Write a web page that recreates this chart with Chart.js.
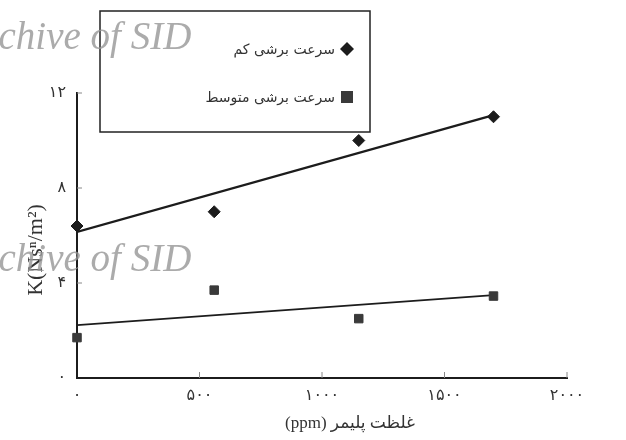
<!DOCTYPE html>
<html>
<head>
<meta charset="utf-8">
<script src="https://cdn.jsdelivr.net/npm/chart.js@4"></script>
<style>
  html, body { margin: 0; background: #fff; }
  #wrap { width: 626px; height: 440px; }
</style>
</head>
<body>
<div id="wrap"><canvas id="chart"></canvas></div>
<script>
const LOW_LABEL = "سرعت برشی کم";
const MID_LABEL = "سرعت برشی متوسط";
const X_TITLE   = "غلظت پلیمر (ppm)";
const Y_TITLE   = "K(Nsⁿ/m²)";

const conc   = [0, 560, 1150, 1700];
const kLow   = [6.4, 7.0, 10.0, 11.0];
const kMid   = [1.7, 3.7, 2.5, 3.45];
const fitX   = [0, 1700];
const fitLow = [6.15, 11.07];
const fitMid = [2.23, 3.49];

const FA = "۰۱۲۳۴۵۶۷۸۹";
const fa = v => String(v).replace(/\d/g, d => FA[d]);
const pts = (xs, ys) => xs.map((x, i) => ({ x, y: ys[i] }));

const INK = "#1c1c1c";

// ── Extras: inner tick marks, legend box, titles, watermark ──────
const extras = {
  id: "extras",
  afterDraw(chart) {
    const { ctx, scales: { x, y } } = chart;
    ctx.save();

    // small tick marks pointing into the plot
    ctx.strokeStyle = "#888";
    ctx.lineWidth = 1;
    x.ticks.forEach(t => {
      if (!t.value) return;
      const px = x.getPixelForValue(t.value);
      ctx.beginPath(); ctx.moveTo(px, y.bottom); ctx.lineTo(px, y.bottom - 6); ctx.stroke();
    });
    y.ticks.forEach(t => {
      if (!t.value) return;
      const py = y.getPixelForValue(t.value);
      ctx.beginPath(); ctx.moveTo(x.left, py); ctx.lineTo(x.left + 5, py); ctx.stroke();
    });

    // legend box
    ctx.fillStyle = "#fff";
    ctx.fillRect(100, 11, 270, 121);
    ctx.strokeStyle = "#222";
    ctx.lineWidth = 1.5;
    ctx.strokeRect(100, 11, 270, 121);

    ctx.fillStyle = INK;
    ctx.beginPath();
    ctx.moveTo(347, 42); ctx.lineTo(354, 49); ctx.lineTo(347, 56); ctx.lineTo(340, 49);
    ctx.closePath(); ctx.fill();
    ctx.fillStyle = "#3a3a3a";
    ctx.fillRect(341, 91, 12, 12);

    ctx.fillStyle = "#333";
    ctx.font = "14px 'DejaVu Sans'";
    ctx.direction = "rtl";
    ctx.textAlign = "right";
    ctx.textBaseline = "middle";
    ctx.fillText(LOW_LABEL, 335, 50);
    ctx.fillText(MID_LABEL, 335, 98);

    // x title
    ctx.font = "17px 'Liberation Serif', 'DejaVu Sans'";
    ctx.textAlign = "center";
    ctx.fillText(X_TITLE, 350, 424);

    // y title
    ctx.direction = "ltr";
    ctx.translate(36, 250);
    ctx.rotate(-Math.PI / 2);
    ctx.font = "22px 'Liberation Serif'";
    ctx.fillText(Y_TITLE, 0, 0);
    ctx.setTransform(1, 0, 0, 1, 0, 0);

    // watermark
    ctx.font = "italic 39px 'Liberation Serif'";
    ctx.fillStyle = "rgba(150,150,150,0.8)";
    ctx.textAlign = "left";
    ctx.textBaseline = "alphabetic";
    const off = ctx.measureText("Ar").width;
    ctx.fillText("Archive of SID", -off, 49);
    ctx.fillText("Archive of SID", -off, 271);

    ctx.restore();
  }
};

new Chart(document.getElementById("chart"), {
  type: "scatter",
  data: {
    datasets: [
      { label: LOW_LABEL, data: pts(conc, kLow), pointStyle: "rectRot", pointRadius: 6,
        backgroundColor: INK, borderColor: INK, showLine: false, clip: false },
      { label: MID_LABEL, data: pts(conc, kMid), pointStyle: "rect", pointRadius: 6,
        backgroundColor: "#3a3a3a", borderColor: "#3a3a3a", showLine: false, clip: false },
      { label: "fit-low", data: pts(fitX, fitLow), showLine: true, pointRadius: 0,
        borderColor: INK, borderWidth: 2.2 },
      { label: "fit-mid", data: pts(fitX, fitMid), showLine: true, pointRadius: 0,
        borderColor: INK, borderWidth: 1.8 },
    ],
  },
  options: {
    responsive: true,
    maintainAspectRatio: false,
    animation: false,
    layout: { padding: { top: 93, right: 59, left: 0, bottom: 0 } },
    plugins: { legend: { display: false }, tooltip: { enabled: false } },
    scales: {
      x: {
        type: "linear", min: 0, max: 2000,
        afterFit: s => { s.height = 62; },
        grid: { display: false, drawTicks: false },
        border: { color: INK, width: 2 },
        ticks: { stepSize: 500, padding: 8, color: "#333", font: { family: "DejaVu Sans", size: 16 },
                 callback: v => fa(v) },
      },
      y: {
        min: 0, max: 12,
        afterFit: s => { s.width = 77; },
        grid: { display: false, drawTicks: false },
        border: { color: INK, width: 2 },
        ticks: { stepSize: 4, padding: 11, color: "#333", font: { family: "DejaVu Sans", size: 16 },
                 callback: v => fa(v) },
      },
    },
  },
  plugins: [extras],
});
</script>
</body>
</html>
